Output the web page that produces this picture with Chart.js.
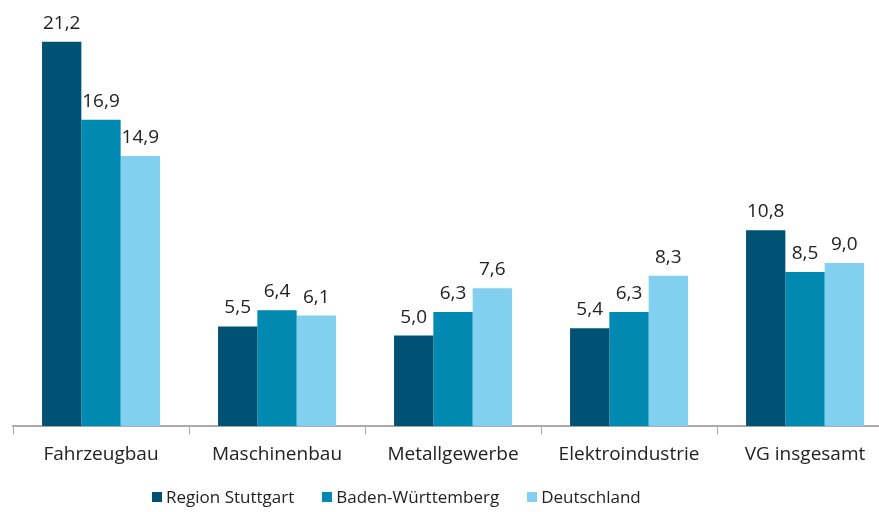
<!DOCTYPE html>
<html>
<head>
<meta charset="utf-8">
<script src="https://cdn.jsdelivr.net/npm/chart.js@4"></script>
<style>
  html, body { margin: 0; padding: 0; background: #fff; overflow: hidden; }
  #wrap { position: relative; width: 900px; height: 512px; }
  #legend { position: absolute; left: 152px; top: 485px; display: flex; align-items: center;
            font-family: "Open Sans", "Noto Sans", sans-serif; font-size: 17px; color: #222; white-space: nowrap; }
  #legend .item { display: flex; align-items: center; margin-right: 28px; }
  #legend .box { width: 10px; height: 10px; margin-right: 4px; }
</style>
</head>
<body>
<div id="wrap">
  <canvas id="chart" width="900" height="512"></canvas>
  <div id="legend"></div>
</div>
<script>
const categories = ['Fahrzeugbau', 'Maschinenbau', 'Metallgewerbe', 'Elektroindustrie', 'VG insgesamt'];
const seriesNames = ['Region Stuttgart', 'Baden-Württemberg', 'Deutschland'];
const regionStuttgart = [21.2, 5.5, 5.0, 5.4, 10.8];
const badenWuerttemberg = [16.9, 6.4, 6.3, 6.3, 8.5];
const deutschland = [14.9, 6.1, 7.6, 8.3, 9.0];
const colors = ['#005275', '#0089b1', '#82d0ef'];

const fontFamily = '"Open Sans", "Noto Sans", sans-serif';

document.addEventListener('DOMContentLoaded', () => {
    main();
});

function main() {
    drawChart();
    buildLegend();
}

function buildLegend() {
    const legend = document.querySelector('#legend');
    seriesNames.forEach((name, i) => {
        const item = document.createElement('div');
        item.className = 'item';
        const box = document.createElement('span');
        box.className = 'box';
        box.style.background = colors[i];
        const txt = document.createElement('span');
        txt.textContent = name;
        item.appendChild(box);
        item.appendChild(txt);
        legend.appendChild(item);
    });
}

function drawChart() {
    const valueLabels = {
        id: 'valueLabels',
        afterDatasetsDraw(chart) {
            const ctx = chart.ctx;
            ctx.save();
            ctx.font = '19px ' + fontFamily;
            ctx.fillStyle = '#222';
            ctx.textAlign = 'center';
            ctx.textBaseline = 'alphabetic';
            chart.data.datasets.forEach((ds, i) => {
                chart.getDatasetMeta(i).data.forEach((bar, j) => {
                    const txt = ds.data[j].toFixed(1).replace('.', ',');
                    ctx.fillText(txt, bar.x, bar.y - 13);
                });
            });
            ctx.restore();
        }
    };

    const ctx = document.querySelector('#chart').getContext('2d');
    new Chart(ctx, {
        type: 'bar',
        data: {
            labels: categories,
            datasets: [
                { label: seriesNames[0], data: regionStuttgart, backgroundColor: colors[0] },
                { label: seriesNames[1], data: badenWuerttemberg, backgroundColor: colors[1] },
                { label: seriesNames[2], data: deutschland, backgroundColor: colors[2] },
            ],
        },
        options: {
            responsive: false,
            animation: false,
            layout: { padding: { left: 13, right: 7, top: 0, bottom: 37 } },
            datasets: {
                bar: { categoryPercentage: 0.67, barPercentage: 1.0 }
            },
            scales: {
                x: {
                    offset: true,
                    grid: {
                        offset: true,
                        drawOnChartArea: false,
                        drawTicks: true,
                        tickLength: 8,
                        color: '#aaaaaa',
                        lineWidth: 1,
                    },
                    border: { color: '#aaaaaa', width: 2 },
                    ticks: {
                        color: '#222',
                        font: { family: fontFamily, size: 19 },
                        padding: 9,
                        maxRotation: 0,
                    },
                },
                y: {
                    display: false,
                    min: 0,
                    max: 23.5,
                },
            },
            plugins: {
                legend: { display: false },
                tooltip: { enabled: false },
            },
        },
        plugins: [valueLabels],
    });
}
</script>
</body>
</html>
